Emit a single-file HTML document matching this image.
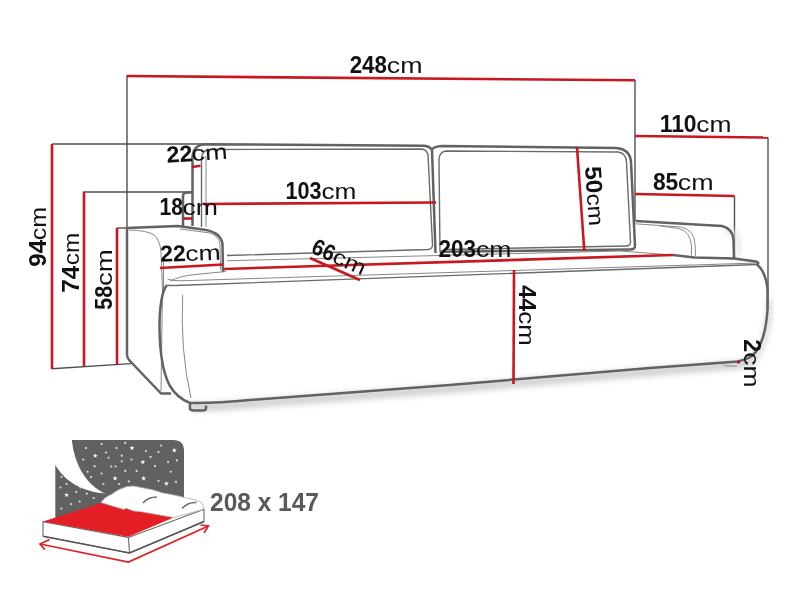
<!DOCTYPE html>
<html><head><meta charset="utf-8">
<style>
html,body{margin:0;padding:0;background:#fff;width:800px;height:600px;overflow:hidden}
svg{display:block;will-change:transform}
text{font-family:"Liberation Sans",sans-serif;fill:#111}
.b{font-weight:bold}
.dim{stroke:#505050;stroke-width:1.4;fill:none}
.red{stroke:#c8171f;stroke-width:2.6;fill:none;stroke-linecap:butt}
.ol{stroke:#626262;stroke-width:2.5;fill:none;stroke-linejoin:round}
.th{stroke:#888;stroke-width:1;fill:none}
.th2{stroke:#6a6a6a;stroke-width:1.4;fill:none}
</style></head>
<body>
<svg width="800" height="600" viewBox="0 0 800 600">
<!-- extension lines -->
<g class="dim">
<path d="M127,75 L127,228"/>
<path d="M52,144 L205,144"/>
<path d="M84,192 L192,192"/>
<path d="M117,228 L127,228"/>
<path d="M52,368.8 L131,363.6"/>
<path d="M635,80 L635,221"/>
<path d="M768,137.5 L768,310"/>
<path d="M734.5,196 L734.5,258"/>
</g>

<defs><filter id="sh" x="-20%" y="-200%" width="140%" height="500%"><feGaussianBlur stdDeviation="3"/></filter></defs>
<path d="M755,360 L738,365 L650,372 L450,389 L250,404 Q215,407.5 190,407" stroke="#c8c8c8" stroke-width="7" fill="none" filter="url(#sh)"/>
<path d="M770,300 Q768,345 752,360" stroke="#d0d0d0" stroke-width="5" fill="none" filter="url(#sh)"/>
<path d="M724,230 Q738,232 739,244 L739,256" stroke="#e6e6e6" stroke-width="5" fill="none" filter="url(#sh)"/>
<!-- sofa outline -->
<g>
<!-- left cushion -->
<path class="ol" d="M192.5,226 L192.5,157.5 Q193,144.5 206,144.2 L424,145.7 Q430,146.5 432,149.8 L435.5,253"/>
<path class="th2" d="M201.5,227 L201.5,158 Q202,150 210,149.5 L422,149 Q427,150 428,155 L432.5,245 Q432.5,249 428,249.5 L227,255.5"/>
<path class="th" d="M206,227 L206,156"/>
<path class="ol" d="M183,226 L183,196 Q183,192.5 188,192.5 L192.5,192.5"/>
<!-- right cushion -->
<path class="ol" d="M431.75,149.5 Q434,146.5 442,146 L616,148 Q630,149 631,162 L635,246 Q635,249.5 630,249.5 L440,251.8"/>
<path class="th2" d="M440,252.5 L439,160 Q439,152 446,151 L618,152 Q626,153 626.5,162 L630.5,242 Q630.5,246 626,246 L445,249.5"/>
<!-- left arm -->
<path class="ol" d="M127,228 L178,226 L206,230 Q221,233 222.5,244 L223,272"/>
<path class="th" d="M180,229 L210,233 Q219,236 220,244 L220.5,270"/>
<path class="ol" d="M127,228 L127,355 Q127,358 130,361 L161,393.5 L171,393.5"/>
<path class="th" d="M129,230 Q148,230.5 154,235 Q160,240 161,252 L162.5,290 L161,391"/>
<path class="th" d="M163.5,262 L163.5,290"/>
<!-- right arm -->
<path class="ol" d="M635.5,221 L722,226 Q733,229 733.5,240 L734,258.5"/>
<path class="th" d="M635.5,223.8 L681,227 Q694.5,230 695,244 L695.5,256"/>
<path class="th" d="M660,226 L678,228.3 Q690.5,231 691.5,246 L691.5,255.5"/>
<!-- seat back lines -->
<path class="th" d="M227,260.75 L620,251 L673,255"/>
<path class="ol" d="M673,255 L694.5,257.5 L734,258.6 L756,261.5 Q760,263 757,264.5"/>
<!-- seat front -->
<path class="th" d="M170,281 Q180,276 195,274.5 L226,271.5"/>
<path class="th" d="M167.5,279 Q172,281 180,280.8 L757,263"/>
<path class="th2" d="M166.7,285.3 Q170,285.5 175,285.5 L757,264.5"/>
<!-- base -->
<path class="ol" d="M757,264.5 Q766,272 767.5,290 L767.5,310 Q765,345 752,356 Q746,360 738,361.5 L650,368 L450,385 L250,400 Q215,403.5 190,403 Q177,398 170,386 Q160,368 159.5,328 Q159.5,295 166.7,285.3"/>
<path class="th" d="M182.7,294.7 Q180,350 191,398"/>
<path class="ol" d="M190,404 L190,409 Q191,410.5 196,410.5 L203,410.5 Q206,410.5 206,408 L206,405.5"/>
<path class="th" d="M723,363 Q723,366 728,366 L737,366"/>
</g>

<!-- red dimension lines -->
<g class="red">
<path d="M127,76 L635,80.3"/>
<path d="M635,136 L768,137.5"/>
<path d="M635,194 L734.5,196"/>
<path d="M52,144 L52,369"/>
<path d="M84,191.5 L84,366"/>
<path d="M117,228 L117,365"/>
<path d="M192,167 L200.5,165.8"/>
<path d="M183,218.5 L192.5,218.5"/>
<path d="M203,204 L436,202.5"/>
<path d="M577,147 L584.3,251"/>
<path d="M160,268 L223,264.5"/>
<path d="M224,269 L673,255"/>
<path d="M310,258 L360,280"/>
<path d="M514,270 L513.5,384"/>
<path d="M737,362 L740,362" stroke-width="3"/>
</g>

<!-- labels -->
<g>
<g>
<text x="349.7" y="73.3" font-size="23" class="b" textLength="37.3" lengthAdjust="spacingAndGlyphs">248</text>
<text x="386.8" y="73.3" font-size="21.5" textLength="35.7" lengthAdjust="spacingAndGlyphs">cm</text>
</g>
<g>
<text x="659.7" y="131.7" font-size="23" class="b" textLength="36.9" lengthAdjust="spacingAndGlyphs">110</text>
<text x="696.2" y="131.7" font-size="21.5" textLength="35.2" lengthAdjust="spacingAndGlyphs">cm</text>
</g>
<g>
<text x="652.9" y="190.0" font-size="23" class="b" textLength="25.4" lengthAdjust="spacingAndGlyphs">85</text>
<text x="677.8" y="190.0" font-size="21.5" textLength="35.8" lengthAdjust="spacingAndGlyphs">cm</text>
</g>
<g transform="rotate(-4 168 162.3)">
<text x="167.0" y="162.8" font-size="23" class="b" textLength="26.0" lengthAdjust="spacingAndGlyphs">22</text>
<text x="192.0" y="162.8" font-size="21.5" textLength="36.0" lengthAdjust="spacingAndGlyphs">cm</text>
</g>
<g>
<text x="159.5" y="214.8" font-size="23" class="b" textLength="23.5" lengthAdjust="spacingAndGlyphs">18</text>
<text x="182.5" y="214.8" font-size="21.5" textLength="35.5" lengthAdjust="spacingAndGlyphs">cm</text>
</g>
<g transform="rotate(-2 161.5 261.3)">
<text x="160.5" y="261.8" font-size="23" class="b" textLength="25.5" lengthAdjust="spacingAndGlyphs">22</text>
<text x="185.5" y="261.8" font-size="21.5" textLength="35.5" lengthAdjust="spacingAndGlyphs">cm</text>
</g>
<g>
<text x="285.5" y="198.8" font-size="23" class="b" textLength="36.0" lengthAdjust="spacingAndGlyphs">103</text>
<text x="321.5" y="198.8" font-size="21.5" textLength="35.0" lengthAdjust="spacingAndGlyphs">cm</text>
</g>
<g>
<text x="438.5" y="256.7" font-size="23" class="b" textLength="37.5" lengthAdjust="spacingAndGlyphs">203</text>
<text x="476.0" y="256.7" font-size="21.5" textLength="35.5" lengthAdjust="spacingAndGlyphs">cm</text>
</g>
<g transform="translate(45.6,266.8) rotate(-90)">
<text x="0" y="0" font-size="23" class="b" textLength="27.0" lengthAdjust="spacingAndGlyphs">94</text>
<text x="26.6" y="0" font-size="21.5" textLength="33.4" lengthAdjust="spacingAndGlyphs">cm</text>
</g>
<g transform="translate(78.8,292.7) rotate(-90)">
<text x="0" y="0" font-size="23" class="b" textLength="27.0" lengthAdjust="spacingAndGlyphs">74</text>
<text x="27.5" y="0" font-size="21.5" textLength="32.5" lengthAdjust="spacingAndGlyphs">cm</text>
</g>
<g transform="translate(111.7,309.8) rotate(-90)">
<text x="0" y="0" font-size="23" class="b" textLength="23.9" lengthAdjust="spacingAndGlyphs">58</text>
<text x="23.8" y="0" font-size="21.5" textLength="36.9" lengthAdjust="spacingAndGlyphs">cm</text>
</g>
<g transform="translate(584.9,166.7) rotate(86)">
<text x="0" y="0" font-size="23" class="b" textLength="27.3" lengthAdjust="spacingAndGlyphs">50</text>
<text x="27.3" y="0" font-size="21.5" textLength="32.5" lengthAdjust="spacingAndGlyphs">cm</text>
</g>
<g transform="translate(519.2,285.3) rotate(90)">
<text x="0" y="0" font-size="23" class="b" textLength="26.0" lengthAdjust="spacingAndGlyphs">44</text>
<text x="26.0" y="0" font-size="21.5" textLength="34.5" lengthAdjust="spacingAndGlyphs">cm</text>
</g>
<g transform="translate(743.7,339.3) rotate(90)">
<text x="0" y="0" font-size="23" class="b" textLength="12.8" lengthAdjust="spacingAndGlyphs">2</text>
<text x="13.0" y="0" font-size="21.5" textLength="35.1" lengthAdjust="spacingAndGlyphs">cm</text>
</g>
<g transform="translate(310,252.5) rotate(24)">
<text x="0" y="0" font-size="23" class="b" textLength="23" lengthAdjust="spacingAndGlyphs">66</text>
<text x="23" y="0" font-size="21.5" textLength="34" lengthAdjust="spacingAndGlyphs">cm</text>
</g>
</g>

<!-- bed icon -->
<g>
<path d="M71.9,440 L173,440 Q184,440 184,451 L184,496 L106,494 C84,484 74,462 71.9,440 Z" fill="#616161"/>
<path d="M55.3,464.8 C63,479 80,492 106,493.6 L184,494 L184,500 L55.3,520 Z" fill="#616161"/>
<path fill="#fff" d="M95.2,453.1 L95.8,454.9 L97.7,454.9 L96.2,456.0 L96.7,457.8 L95.2,456.7 L93.7,457.8 L94.2,456.0 L92.7,454.9 L94.6,454.9ZM131.9,445.5 L132.5,447.3 L134.4,447.3 L132.9,448.4 L133.4,450.2 L131.9,449.1 L130.4,450.2 L130.9,448.4 L129.4,447.3 L131.3,447.3ZM142.8,459.5 L143.4,461.3 L145.3,461.3 L143.8,462.4 L144.3,464.2 L142.8,463.1 L141.3,464.2 L141.8,462.4 L140.3,461.3 L142.2,461.3ZM174.3,447.8 L174.9,449.6 L176.8,449.6 L175.3,450.7 L175.8,452.5 L174.3,451.4 L172.8,452.5 L173.3,450.7 L171.8,449.6 L173.7,449.6ZM115.1,475.8 L115.7,477.6 L117.6,477.6 L116.1,478.7 L116.6,480.5 L115.1,479.4 L113.6,480.5 L114.1,478.7 L112.6,477.6 L114.5,477.6ZM143.6,475.8 L144.2,477.6 L146.1,477.6 L144.6,478.7 L145.1,480.5 L143.6,479.4 L142.1,480.5 L142.6,478.7 L141.1,477.6 L143.0,477.6ZM166.4,481.0 L167.0,482.8 L168.9,482.8 L167.4,484.0 L167.9,485.8 L166.4,484.6 L164.9,485.8 L165.4,484.0 L163.9,482.8 L165.8,482.8ZM66.6,492.4 L67.2,494.2 L69.1,494.2 L67.6,495.3 L68.1,497.1 L66.6,496.0 L65.1,497.1 L65.6,495.3 L64.1,494.2 L66.0,494.2Z"/>
<g fill="#ddd"><circle cx="85.9" cy="448.1" r="1.1"/><circle cx="101.6" cy="444.1" r="1.1"/><circle cx="106" cy="452.5" r="1.1"/><circle cx="116.5" cy="448.1" r="1.1"/><circle cx="125.25" cy="442.9" r="1.1"/><circle cx="145.9" cy="451.1" r="1.1"/><circle cx="158.5" cy="452.2" r="1.1"/><circle cx="161.1" cy="445.5" r="1.1"/><circle cx="83.25" cy="459.5" r="1.1"/><circle cx="108.6" cy="457.75" r="1.1"/><circle cx="121.75" cy="455.65" r="1.1"/><circle cx="131.4" cy="459.5" r="1.1"/><circle cx="150.6" cy="456.9" r="1.1"/><circle cx="168.1" cy="462.1" r="1.1"/><circle cx="176.9" cy="460.4" r="1.1"/><circle cx="94.6" cy="466.15" r="1.1"/><circle cx="111.25" cy="466.5" r="1.1"/><circle cx="115.6" cy="466.5" r="1.1"/><circle cx="125.25" cy="470.9" r="1.1"/><circle cx="136.6" cy="470.9" r="1.1"/><circle cx="155" cy="466.15" r="1.1"/><circle cx="170.75" cy="471.75" r="1.1"/><circle cx="87.6" cy="471.75" r="1.1"/><circle cx="101.6" cy="473.5" r="1.1"/><circle cx="91.1" cy="477" r="1.1"/><circle cx="128.75" cy="481.4" r="1.1"/><circle cx="158.5" cy="480.85" r="1.1"/><circle cx="176" cy="481.9" r="1.1"/><circle cx="61.4" cy="477" r="1.1"/><circle cx="66.6" cy="484" r="1.1"/><circle cx="80.6" cy="487.5" r="1.1"/><circle cx="76.25" cy="491.9" r="1.1"/><circle cx="60.5" cy="487.5" r="1.1"/><circle cx="86.75" cy="493.6" r="1.1"/><circle cx="79.75" cy="501.5" r="1.1"/><circle cx="93.75" cy="498" r="1.1"/><circle cx="71" cy="504.1" r="1.1"/><circle cx="61.4" cy="508.5" r="1.1"/><circle cx="103.4" cy="484" r="1.1"/><circle cx="121.75" cy="461.25" r="1.1"/><circle cx="119.1" cy="484" r="1.1"/></g>
<!-- mattress -->
<path d="M43,521.6 L43,536.3 L129.5,553 L204,521.6 L204,509.3 L128.4,537.4 Z" fill="#fff" stroke="#6a6a6a" stroke-width="1.1" stroke-linejoin="round"/>
<path d="M128.4,537.4 L129.5,553" stroke="#6a6a6a" stroke-width="1.1"/>
<path d="M43,536.3 L129.5,553 L204,521.6" stroke="#555" stroke-width="1.6" fill="none"/>
<path d="M43,521.6 L102.5,502.5 Q112,506 124,509.5 Q126,507.5 128,509 Q133,511.5 140,511.5 L173.75,517.5 L128.4,536.8 Z" fill="#e31e24"/>
<!-- pillows / duvet -->
<path d="M100.75,502.4 Q106,496 111.25,494.5 Q118,489 127,486.6 Q134,485 141,487.5 Q152,489 162,492.75 Q176,495 186.5,498 Q198,500 202,503 Q205,507 203,509.5 L173.75,517.5 L140,511.5 Q133,511.5 128,509 Q126,507.5 124,509.5 Q112,506 100.75,502.4 Z" fill="#fff" stroke="#aaa" stroke-width="0.8"/>
<path d="M143,503 Q148,497 157,497" stroke="#6a6a6a" stroke-width="1.6" fill="none"/>
<path d="M182,508.5 Q188,502 196.5,502.5" stroke="#6a6a6a" stroke-width="1.6" fill="none"/>
<!-- arrows -->
<path d="M40,544 L128.4,562 L208.4,526" stroke="#e31e24" stroke-width="1.7" fill="none"/>
<path d="M49.6,539.6 L40,544 L45,549.8" stroke="#e31e24" stroke-width="1.7" fill="none"/>
<path d="M200.5,525 L208.4,526 L204,533" stroke="#e31e24" stroke-width="1.7" fill="none"/>
</g>
<text x="210" y="511.3" font-size="26" class="b" style="fill:#5a5a5a" textLength="109" lengthAdjust="spacingAndGlyphs">208 x 147</text>
</svg>
</body></html>
